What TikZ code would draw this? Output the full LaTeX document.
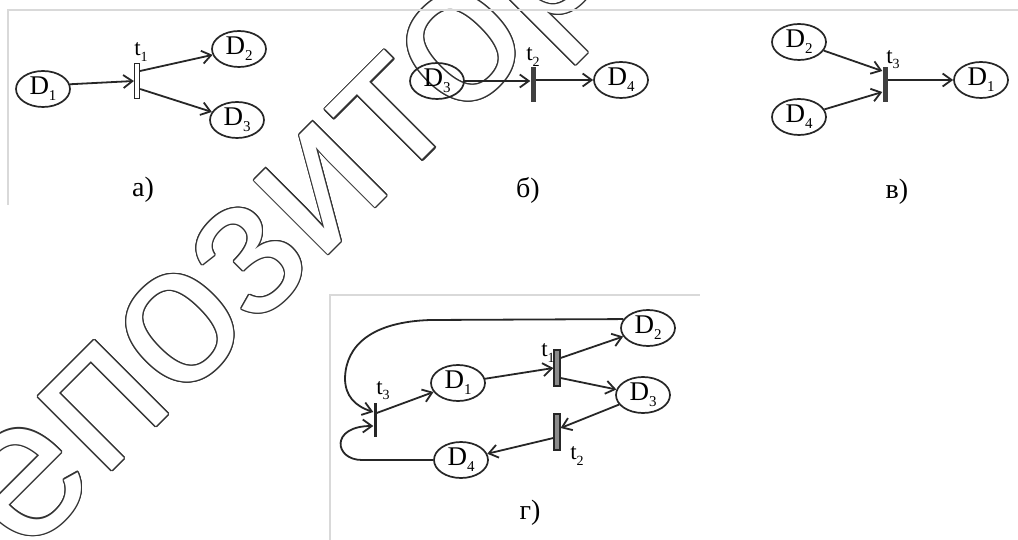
\documentclass[tikz,border=0pt]{standalone}
\usepackage{fontspec}
\setmainfont{Liberation Serif}
\newfontfamily\wmfont{Liberation Sans}
\usetikzlibrary{arrows.meta,shapes.geometric}

% lowered index for place and transition names
\newcommand\idx[2][15]{\raisebox{-0.22em}{\fontsize{#1}{#1}\selectfont #2}}

\tikzset{
  place/.style={ellipse, draw=black!85, line width=1.7pt, minimum width=54pt,
    minimum height=36pt, inner sep=0pt, font=\fontsize{27}{27}\selectfont},
  hollowbar/.style={rectangle, draw=black!85, line width=1.2pt, fill=white,
    minimum width=5pt, minimum height=35pt, inner sep=0pt},
  solidbar/.style={rectangle, fill=black!75, minimum width=5pt,
    minimum height=35pt, inner sep=0pt},
  greybar/.style={rectangle, draw=black!85, line width=1.2pt, fill=black!45,
    minimum width=6pt, minimum height=36pt, inner sep=0pt},
  thinbar/.style={rectangle, fill=black!85, minimum width=3pt,
    minimum height=34pt, inner sep=0pt},
  tlabel/.style={font=\fontsize{23}{23}\selectfont, inner sep=0pt},
  caption/.style={font=\fontsize{28}{28}\selectfont, inner sep=0pt},
  arc/.style={draw=black!85, line width=1.8pt,
    -{Straight Barb[length=9pt,width=13pt]}},
  frame/.style={draw=black!15, line width=1.5pt},
  wm/.style={font=\wmfont\fontsize{198}{198}\selectfont, rotate=45, inner sep=0pt},
}

\begin{document}
\begin{tikzpicture}[x=1pt,y=-1pt]
\useasboundingbox (0,0) rectangle (1018,540);
\fill[white] (0,0) rectangle (1018,540);

% repository watermark: outlined lettering behind the drawing
\begin{scope}
  \clip (0,0) rectangle (1018,540);
  \foreach \a in {0,30,...,330}
    \node[wm, text=black!80] at ([shift={(\a:1.3pt)}]317,191) {Репозиторий};
  \node[wm, text=white] (wmark) at (317,191) {Репозиторий};
\end{scope}

% frames
\draw[frame] (8,205) -- (8,10) -- (1018,10);
\draw[frame] (330,540) -- (330,295) -- (700,295);

% a) transition t1 splits D1 into D2 and D3
\node[place] (a1) at (43,89) {D\idx{1}};
\node[hollowbar] (at1) at (137,81) {};
\node[tlabel] (at1l) at (141,52) {t\idx[14]{1}};
\node[place] (a2) at (239,49) {D\idx{2}};
\node[place] (a3) at (237,120) {D\idx{3}};
\node[caption] (acap) at (143,190) {а)};
\draw[arc] (a1.10) -- (at1.west);
\draw[arc] ([yshift=10pt]at1.east) -- (a2);
\draw[arc] ([yshift=-8pt]at1.east) -- (a3);

% b) transition t2: D3 to D4
\node[place] (b3) at (437,81) {D\idx{3}};
\node[solidbar] (bt2) at (533,85) {};
\node[tlabel] (bt2l) at (533,57) {t\idx[14]{2}};
\node[place] (b4) at (621,80) {D\idx{4}};
\node[caption] (bcap) at (528,190) {б)};
\draw[arc] (b3) -- (bt2.west |- b3);
\draw[arc] (bt2.east |- b4) -- (b4);

% c) transition t3 joins D2 and D4 into D1
\node[place] (c2) at (799,42) {D\idx{2}};
\node[place] (c4) at (799,117) {D\idx{4}};
\node[solidbar] (ct3) at (885,85) {};
\node[tlabel] (ct3l) at (893,60) {t\idx[14]{3}};
\node[place] (c1) at (981,80) {D\idx{1}};
\node[caption] (ccap) at (897,192) {в)};
\draw[arc] (c2) -- ([yshift=14pt]ct3.west);
\draw[arc] (c4) -- ([yshift=-7pt]ct3.west);
\draw[arc] (ct3.east |- c1) -- (c1);

% d) the complete net
\node[place] (d2) at (648,328) {D\idx{2}};
\node[place] (d1) at (458,383) {D\idx{1}};
\node[place] (d3) at (643,395) {D\idx{3}};
\node[place] (d4) at (461,460) {D\idx{4}};
\node[greybar] (dt1) at (557,368) {};
\node[greybar] (dt2) at (557,432) {};
\node[thinbar] (dt3) at (375,420) {};
\node[tlabel] (dt1l) at (548,353) {t\idx[14]{1}};
\node[tlabel] (dt2l) at (577,456) {t\idx[14]{2}};
\node[tlabel] (dt3l) at (383,391) {t\idx[14]{3}};
\node[caption] (dcap) at (530,513) {г)};
\draw[arc] (d1) -- (dt1.west);
\draw[arc] ([yshift=10pt]dt1.east) -- (d2);
\draw[arc] ([yshift=-10pt]dt1.east) -- (d3);
\draw[arc] (d3) -- ([yshift=4pt]dt2.east);
\draw[arc] ([yshift=-6pt]dt2.west) -- (d4);
\draw[arc] ([yshift=7pt]dt3.east) -- (d1);
\draw[arc] (d2.160) -- (430,320)
  .. controls (372,322) and (346,345) .. (345,378)
  .. controls (345,396) and (355,406) .. ([yshift=8pt]dt3.west);
\draw[arc] (d4.west) -- (362,460)
  .. controls (334,460) and (330,426) .. ([yshift=-6pt]dt3.west);
\end{tikzpicture}
\end{document}
